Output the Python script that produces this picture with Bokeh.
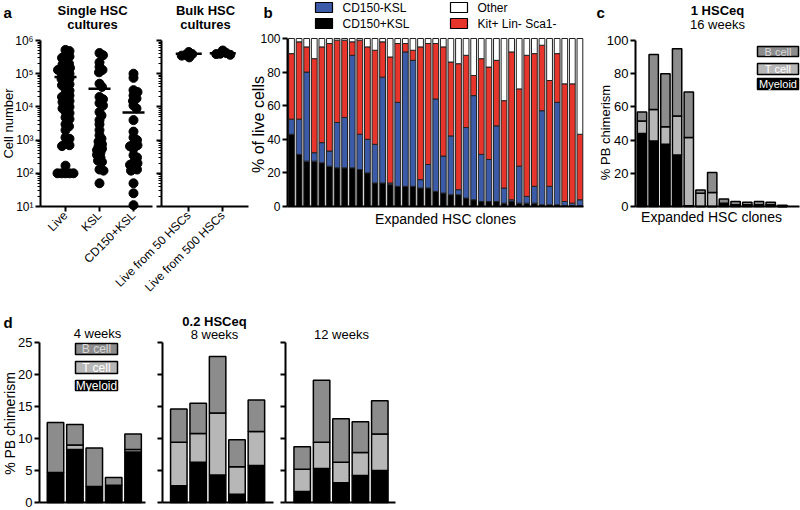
import math
from bokeh.plotting import figure
from bokeh.layouts import row, column
from bokeh.models import (Range1d, FixedTicker, Label, ColumnDataSource, BoxAnnotation,
                          LinearAxis, LogAxis)
from bokeh.embed import file_html
from bokeh.resources import INLINE

FONT = "Liberation Sans"

# ---------------- data ----------------
# panel a (cell numbers per culture)
single_cats = ["Live", "KSL", "CD150+KSL"]
live_cells = [5.2e5, 4.8e5, 3.6e5, 3.3e5, 3.0e5, 2.3e5, 2.0e5, 1.9e5, 1.6e5, 1.5e5,
              1.4e5, 1.3e5, 1.1e5, 1.0e5, 9.5e4, 7.8e4, 7.2e4, 7.0e4, 5.2e4, 4.8e4,
              4.5e4, 3.4e4, 3.1e4, 2.4e4, 2.2e4, 2.0e4, 1.7e4, 1.5e4, 1.4e4, 1.1e4,
              1.0e4, 9.0e3, 7.2e3, 6.5e3, 4.8e3, 4.3e3, 3.0e3, 2.6e3, 2.0e3, 1.2e3,
              1.1e3, 7.8e2, 7.0e2, 6.6e2, 1.7e2, 1.0e2, 1.0e2, 1.0e2, 1.0e2, 1.0e2]
ksl_cells = [4.2e5, 3.6e5, 2.2e5, 1.6e5, 1.3e5, 1.1e5, 5.0e4, 4.0e4, 2.0e4, 1.7e4,
             1.3e4, 1.1e4, 7.0e3, 5.5e3, 4.0e3, 3.0e3, 2.0e3, 1.4e3, 1.1e3, 9.0e2,
             7.5e2, 6.5e2, 5.5e2, 5.0e2, 4.2e2, 3.6e2, 3.0e2, 2.4e2, 2.2e2, 1.3e2,
             1.2e2, 5.0e1]
cd150_ksl_cells = [1.0e5, 7.5e4, 3.2e4, 2.8e4, 2.2e4, 1.8e4, 1.5e4, 1.1e4, 9.0e3, 4.0e3,
                   1.8e3, 1.2e3, 1.0e3, 7.5e2, 7.0e2, 6.5e2, 5.5e2, 3.5e2, 3.0e2, 2.1e2,
                   2.0e2, 1.8e2, 1.5e2, 1.3e2, 1.2e2, 5.0e1, 2.5e1, 1.1e1]
single_means = [8.0e4, 3.5e4, 6.8e3]
bulk_cats = ["Live from 50 HSCs", "Live from 500 HSCs"]
bulk50_cells = [3.1e5, 3.5e5, 3.9e5, 4.5e5, 3.7e5]
bulk500_cells = [3.7e5, 4.0e5, 4.2e5, 5.0e5, 3.9e5]
bulk_means = [4.0e5, 4.1e5]
log_tick_labels = {10: "10¹", 100: "10²", 1000: "10³", 10000: "10⁴",
                   100000: "10⁵", 1000000: "10⁶"}

# panel b (% of live cells per clone)
clone_cd150p_ksl = [43, 31, 27, 27, 26, 24, 23, 23, 23, 22, 20, 14, 14, 13, 12, 12, 12, 11, 11, 9,
                    8, 7, 7, 5, 4, 3, 3, 3, 2, 3, 2, 2, 2, 1, 1, 1, 0.5, 0.5, 0.5]
clone_cd150m_ksl = [9, 21, 53, 5, 12, 9, 27, 30, 67, 21, 20, 23, 63, 1, 50, 80, 75, 5, 14, 55,
                    22, 35, 3, 42, 62, 28, 25, 45, 9, 1, 22, 4, 10, 56, 11, 61, 2.5, 1.5, 3.5]
clone_kit_lin_sca = [39, 46, 15, 56, 57, 64, 49, 46, 8, 56, 55, 56, 21, 75, 35, 5, 6, 79, 72, 33,
                     65, 44, 75, 43, 12, 57, 55, 39, 52, 88, 46, 84, 79, 39, 63, 29, 70, 71, 39]
clone_other = [9, 2, 5, 12, 5, 3, 1, 1, 2, 1, 5, 7, 2, 11, 3, 3, 7, 5, 3, 3,
               5, 14, 15, 10, 22, 12, 17, 13, 37, 8, 30, 10, 9, 4, 25, 9, 27, 27, 57]
b_series = ["CD150+KSL", "CD150-KSL", "Kit+ Lin- Sca1-", "Other"]

# panel c (1 HSCeq, 16 weeks)
c_myeloid = [44, 39.5, 37.5, 31, 0.5, 0, 0, 1, 0.5, 0.5, 0.5, 0.5, 0]
c_tcell = [7.5, 19, 10.5, 23.5, 41, 8, 8.5, 1, 0.5, 0.5, 0.5, 0.5, 0]
c_bcell = [5.5, 33, 32, 40.5, 27.5, 2, 12, 2.5, 2, 1.5, 2, 1.5, 0.8]

# panel d (0.2 HSCeq)
d4_myeloid = [4.7, 8.3, 2.5, 2.7, 7.9]
d4_tcell = [0, 0.7, 0, 0, 0.4]
d4_bcell = [7.8, 3.2, 6.0, 1.2, 2.4]
d8_myeloid = [2.6, 6.3, 4.3, 1.3, 5.8]
d8_tcell = [6.8, 4.5, 9.7, 4.3, 5.3]
d8_bcell = [5.2, 4.7, 8.8, 4.2, 4.9]
d12_myeloid = [1.7, 5.3, 3.1, 4.2, 5.0]
d12_tcell = [3.5, 4.1, 3.2, 3.6, 5.7]
d12_bcell = [3.5, 9.7, 6.8, 4.8, 5.2]
lineages = ["B cell", "T cell", "Myeloid"]

# ---------------- style ----------------
BLUE = "#3b5ba8"
RED = "#e8352b"
B_GRAY = "#8c8c8c"
T_GRAY = "#b7b7b7"


class PanelMap:
    """Maps page pixels to data coordinates for one figure whose frame fills its canvas."""

    def __init__(self, left, top, width, height, xpx0, xscale, ypx0, yval0, yscale, log=False):
        self.left, self.top, self.w, self.h = left, top, width, height
        self.xpx0, self.xs = xpx0, xscale
        self.ypx0, self.yv0, self.ys, self.log = ypx0, yval0, yscale, log

    def X(self, px):
        return (px - self.xpx0) / self.xs

    def Y(self, py):
        if self.log:
            return 10 ** (math.log10(self.yv0) + (self.ypx0 - py) / self.ys)
        return self.yv0 + (self.ypx0 - py) / self.ys


def make_fig(m):
    kw = dict(width=m.w, height=m.h,
              x_range=Range1d(m.X(m.left), m.X(m.left + m.w)),
              y_range=Range1d(m.Y(m.top + m.h), m.Y(m.top)),
              x_axis_location=None, y_axis_location=None,
              output_backend="svg", toolbar_location=None, min_border=0)
    if m.log:
        kw["y_axis_type"] = "log"
    p = figure(**kw)
    p.title.visible = False
    p.outline_line_color = None
    p.grid.visible = False
    p.background_fill_color = "white"
    p.border_fill_color = "white"
    return p


def style_axis(ax, label_size):
    ax.axis_line_width = 2
    ax.axis_line_color = "black"
    ax.major_tick_line_width = 2
    ax.major_tick_line_color = "black"
    ax.major_tick_out = 5
    ax.major_tick_in = 0
    ax.minor_tick_in = 0
    ax.minor_tick_out = 3
    ax.minor_tick_line_width = 1
    ax.minor_tick_line_color = "black"
    ax.major_label_text_font = FONT
    ax.major_label_text_color = "black"
    ax.major_label_standoff = 2
    if label_size:
        ax.major_label_text_font_size = f"{label_size}px"
    else:
        ax.major_label_text_font_size = "1px"
        ax.major_label_text_alpha = 0
        ax.major_label_standoff = 0


def add_y_axis(p, m, px, lo, hi, ticks, minor=(), label_size=12, overrides=None):
    Ax = LogAxis if m.log else LinearAxis
    ax = Ax(fixed_location=m.X(px), bounds=(lo, hi),
            ticker=FixedTicker(ticks=list(ticks), minor_ticks=list(minor)))
    style_axis(ax, label_size)
    if overrides:
        ax.major_label_overrides = overrides
    p.add_layout(ax, "left")
    return ax


def add_x_axis(p, m, px0, px1, yval, ticks=None, overrides=None, label_size=12):
    if ticks is None:
        tk = [m.X((px0 + px1) / 2.0)]
    else:
        tk = list(ticks)
    ax = LinearAxis(fixed_location=yval, bounds=(m.X(px0), m.X(px1)),
                    ticker=FixedTicker(ticks=tk))
    style_axis(ax, label_size if ticks is not None else None)
    ax.minor_tick_line_color = None
    if ticks is None:
        ax.major_tick_line_color = None
        ax.major_tick_out = 0
    if overrides:
        ax.major_label_overrides = overrides
        ax.major_label_orientation = math.pi / 4
    p.add_layout(ax, "below")
    return ax


def text(p, m, px, py, s, size, bold=False, align="center", color="black", angle=0.0):
    p.add_layout(Label(x=m.X(px), y=m.Y(py), text=s, text_font=FONT,
                       text_font_size=f"{int(size)}px",
                       text_font_style="bold" if bold else "normal",
                       text_align=align, text_baseline="middle", text_color=color,
                       angle=angle))


def rect_box(p, m, x0, y0, x1, y1, fill, lw=1.5):
    p.add_layout(BoxAnnotation(left=m.X(x0), right=m.X(x1), top=m.Y(y0), bottom=m.Y(y1),
                               fill_color=fill, fill_alpha=1, line_color="black",
                               line_width=lw, line_alpha=1))


def legend_box(p, m, x0, y0, x1, y1, fill, s, tcolor, size=11):
    rect_box(p, m, x0, y0, x1, y1, fill)
    text(p, m, (x0 + x1) / 2.0, (y0 + y1) / 2.0, s, size, color=tcolor)


def swarm(vals, px_per_dec, diam):
    ys = [math.log10(v) * px_per_dec for v in vals]
    order = sorted(range(len(vals)), key=lambda i: -vals[i])
    placed = []
    offs = [0.0] * len(vals)
    for i in order:
        y = ys[i]
        best = None
        k = 0
        while best is None:
            cands = [0.0] if k == 0 else [k * 0.5, -k * 0.5]
            for c in cands:
                if all((c - px) ** 2 + (y - py) ** 2 >= diam ** 2 for px, py in placed):
                    best = c
                    break
            k += 1
        offs[i] = best
        placed.append((best, y))
    return offs


# ---------------- panel a (single + bulk in one canvas) ----------------
ma = PanelMap(0, 0, 250, 300, xpx0=65, xscale=34.0, ypx0=206, yval0=10, yscale=166 / 5.0, log=True)
pa = make_fig(ma)
MAJ = [10, 100, 1000, 10000, 100000, 1000000]
MIN = [k * 10 ** e for e in range(1, 6) for k in range(2, 10)]
add_y_axis(pa, ma, 40, 10, 1e6, MAJ, MIN, label_size=12, overrides=log_tick_labels)
add_y_axis(pa, ma, 161, 10, 1e6, MAJ, MIN, label_size=None)
single_pos = [0, 1, 2]
bulk_pos = [3.625, 4.625]
add_x_axis(pa, ma, 40, 152, 10, ticks=single_pos,
           overrides={k: c for k, c in zip(single_pos, single_cats)}, label_size=12)
add_x_axis(pa, ma, 161, 248, 10, ticks=bulk_pos,
           overrides={k: c for k, c in zip(bulk_pos, bulk_cats)}, label_size=12)

SWARM_D = 4.0
for pos, vals in zip(single_pos + bulk_pos,
                     [live_cells, ksl_cells, cd150_ksl_cells, bulk50_cells, bulk500_cells]):
    offs = swarm(vals, ma.ys, SWARM_D)
    pa.scatter(x=[pos + o / ma.xs for o in offs], y=vals, size=9, color="black")
half1 = 11.0 / ma.xs
half2 = 13.0 / ma.xs
pa.segment(x0=[q - half1 for q in single_pos], x1=[q + half1 for q in single_pos],
           y0=single_means, y1=single_means, line_width=2.5, line_color="black")
pa.segment(x0=[q - half2 for q in bulk_pos], x1=[q + half2 for q in bulk_pos],
           y0=bulk_means, y1=bulk_means, line_width=2.5, line_color="black")

text(pa, ma, 8, 123, "Cell number", 13, angle=math.pi / 2)
text(pa, ma, 3, 12, "a", 15, bold=True, align="left")
text(pa, ma, 92, 10, "Single HSC", 13, bold=True)
text(pa, ma, 92, 24, "cultures", 13, bold=True)
text(pa, ma, 205, 10, "Bulk HSC", 13, bold=True)
text(pa, ma, 205, 24, "cultures", 13, bold=True)

# ---------------- panel b ----------------
mb = PanelMap(250, 0, 340, 300, xpx0=291, xscale=7.59, ypx0=206, yval0=0, yscale=1.68)
pb = make_fig(mb)
add_y_axis(pb, mb, 287, 0, 100, [0, 20, 40, 60, 80, 100], label_size=12)
add_x_axis(pb, mb, 287, 583, 0)
nb = len(clone_cd150p_ksl)
src_b = ColumnDataSource(dict(x=list(range(nb)), cd150p=clone_cd150p_ksl,
                              cd150m=clone_cd150m_ksl, kit=clone_kit_lin_sca,
                              other=clone_other))
pb.vbar_stack(["cd150p", "cd150m", "kit", "other"], x="x", width=0.76,
              color=["black", BLUE, RED, "white"], line_color="#222222",
              line_width=1, source=src_b)
text(pb, mb, 258, 124, "% of live cells", 16, angle=math.pi / 2)
text(pb, mb, 445, 218, "Expanded HSC clones", 14)
text(pb, mb, 263, 12, "b", 15, bold=True, align="left")
for (bx, by), (name, col) in zip([(315, 2), (315, 18), (450, 2), (450, 18)],
                                 [(b_series[1], BLUE), (b_series[0], "black"),
                                  (b_series[3], "white"), (b_series[2], RED)]):
    rect_box(pb, mb, bx, by, bx + 17, by + 10, col, lw=1.2)
    text(pb, mb, bx + 27, by + 5.5, name, 12, align="left")

# ---------------- panel c ----------------
mc = PanelMap(590, 0, 210, 300, xpx0=641.5, xscale=11.7, ypx0=206, yval0=0, yscale=1.66)
pc = make_fig(mc)
add_y_axis(pc, mc, 635, 0, 100, [0, 20, 40, 60, 80, 100], label_size=13)
add_x_axis(pc, mc, 635, 799, 0)
nc = len(c_myeloid)
src_c = ColumnDataSource(dict(x=list(range(nc)), m=c_myeloid, t=c_tcell, b=c_bcell))
pc.vbar_stack(["m", "t", "b"], x="x", width=0.8, color=["black", T_GRAY, B_GRAY],
              line_color="black", line_width=1.5, source=src_c)
legend_box(pc, mc, 757, 46, 798, 56, B_GRAY, lineages[0], "#d8d8d8", 11)
legend_box(pc, mc, 757, 63, 798, 74, T_GRAY, lineages[1], "white", 11)
legend_box(pc, mc, 757, 78, 798, 89, "black", lineages[2], "white", 11)
text(pc, mc, 605, 132, "% PB chimerism", 13, angle=math.pi / 2)
text(pc, mc, 711, 216, "Expanded HSC clones", 14)
text(pc, mc, 596, 12, "c", 15, bold=True, align="left")
text(pc, mc, 717, 10, "1 HSCeq", 13, bold=True)
text(pc, mc, 717, 24, "16 weeks", 13)

# ---------------- panel d (three time points in one canvas) ----------------
md = PanelMap(0, 300, 400, 209, xpx0=55, xscale=19.4, ypx0=502, yval0=0, yscale=160 / 25.0)
pd = make_fig(md)
group_px = [55, 178.3, 301.7]
axis_px = [(39, 145), (162, 273), (285, 395)]
for g, (ax0, ax1) in enumerate(axis_px):
    add_y_axis(pd, md, ax0, 0, 25, [0, 5, 10, 15, 20, 25], label_size=13 if g == 0 else None)
    add_x_axis(pd, md, ax0, ax1, 0)
for g, (my, tc, bc) in enumerate([(d4_myeloid, d4_tcell, d4_bcell),
                                  (d8_myeloid, d8_tcell, d8_bcell),
                                  (d12_myeloid, d12_tcell, d12_bcell)]):
    base = md.X(group_px[g])
    src = ColumnDataSource(dict(x=[base + i for i in range(len(my))], m=my, t=tc, b=bc))
    pd.vbar_stack(["m", "t", "b"], x="x", width=0.85, color=["black", T_GRAY, B_GRAY],
                  line_color="black", line_width=1.5, source=src)
legend_box(pd, md, 75, 343, 117, 354, B_GRAY, lineages[0], "#d8d8d8", 12)
legend_box(pd, md, 75, 361, 117, 373, T_GRAY, lineages[1], "white", 12)
legend_box(pd, md, 75, 380, 117, 390, "black", lineages[2], "white", 12)
text(pd, md, 9, 423, "% PB chimerism", 14, angle=math.pi / 2)
text(pd, md, 3, 322, "d", 15, bold=True, align="left")
text(pd, md, 97, 333, "4 weeks", 13)
text(pd, md, 214, 321, "0.2 HSCeq", 13, bold=True)
text(pd, md, 214, 334, "8 weeks", 13)
text(pd, md, 341, 334, "12 weeks", 13)

layout = column(row(pa, pb, pc), pd)

open("out.html", "w").write(file_html(layout, INLINE))
